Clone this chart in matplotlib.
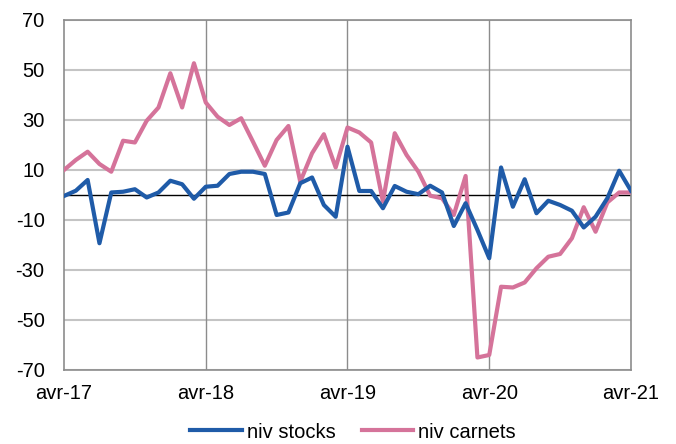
import matplotlib.pyplot as plt
import numpy as np

plt.rcParams['font.family'] = ['Liberation Sans', 'DejaVu Sans']
plt.rcParams['axes.unicode_minus'] = False

# monthly values, avr-17 .. avr-21
stocks = [-0.4, 1.7, 6, -19.3, 1, 1.3, 2.3, -1, 1, 5.7, 4.3, -1.5,
          3.3, 3.7, 8.4, 9.3, 9.3, 8.4, -8, -7, 4.7, 7, -4, -8.7,
          19.3, 1.6, 1.6, -5.3, 3.6, 1.3, 0.3, 3.7, 1, -12.4, -3.3, -14,
          -25.3, 11, -4.7, 6.3, -7.3, -2.3, -4, -6.3, -13, -8.7, -1.3, 9.7,
          1.7]
carnets = [10, 14, 17.3, 12.4, 9.3, 21.7, 21, 29.7, 35, 48.7, 35, 52.7,
           37, 31.3, 28, 30.7, 21.3, 11.7, 22, 27.6, 5.3, 16.7, 24.3, 11,
           27, 25, 21, -2.7, 24.7, 16, 9.3, -0.3, -1.3, -8, 7.6, -65,
           -64, -36.7, -37, -35, -29.3, -24.7, -23.6, -17.3, -4.9, -14.7, -3, 1,
           1]
tick_pos = [0, 12, 24, 36, 48]
tick_labels = ['avr-17', 'avr-18', 'avr-19', 'avr-20', 'avr-21']
y_ticks = [-70, -50, -30, -10, 10, 30, 50, 70]

fig = plt.figure(figsize=(6.76, 4.44), dpi=100)
ax = fig.add_axes([0.0947, 0.1667, 0.8387, 0.7883])

x = np.arange(len(stocks))
for yt in y_ticks:
    ax.axhline(yt, color='#c4c4c4', lw=1.5, zorder=1)
for xt in tick_pos[1:-1]:
    ax.axvline(xt, color='#8c8c8c', lw=1.0, zorder=1)
ax.axhline(0, color='black', lw=1.0, zorder=2)

ax.plot(x, stocks, color='#1f5ba8', lw=3.0, label='niv stocks', zorder=4)
ax.plot(x, carnets, color='#d5739a', lw=3.0, label='niv carnets', zorder=3)

ax.set_xlim(0, 48)
ax.set_ylim(-70, 70)
ax.set_yticks(y_ticks)
ax.set_xticks(tick_pos)
ax.set_xticklabels(tick_labels)
ax.tick_params(axis='both', length=0, labelsize=14.5, colors='black')
ax.tick_params(axis='x', pad=10)
ax.tick_params(axis='y', pad=14)
for s in ax.spines.values():
    s.set_color('#8c8c8c')
    s.set_linewidth(1.2)

fig.legend(loc='center', bbox_to_anchor=(0.522, 0.027), ncol=2, frameon=False,
           fontsize=14.5, handlelength=2.55, columnspacing=1.3, handletextpad=0.25,
           borderpad=0)

fig.savefig('out.png', dpi=100)
